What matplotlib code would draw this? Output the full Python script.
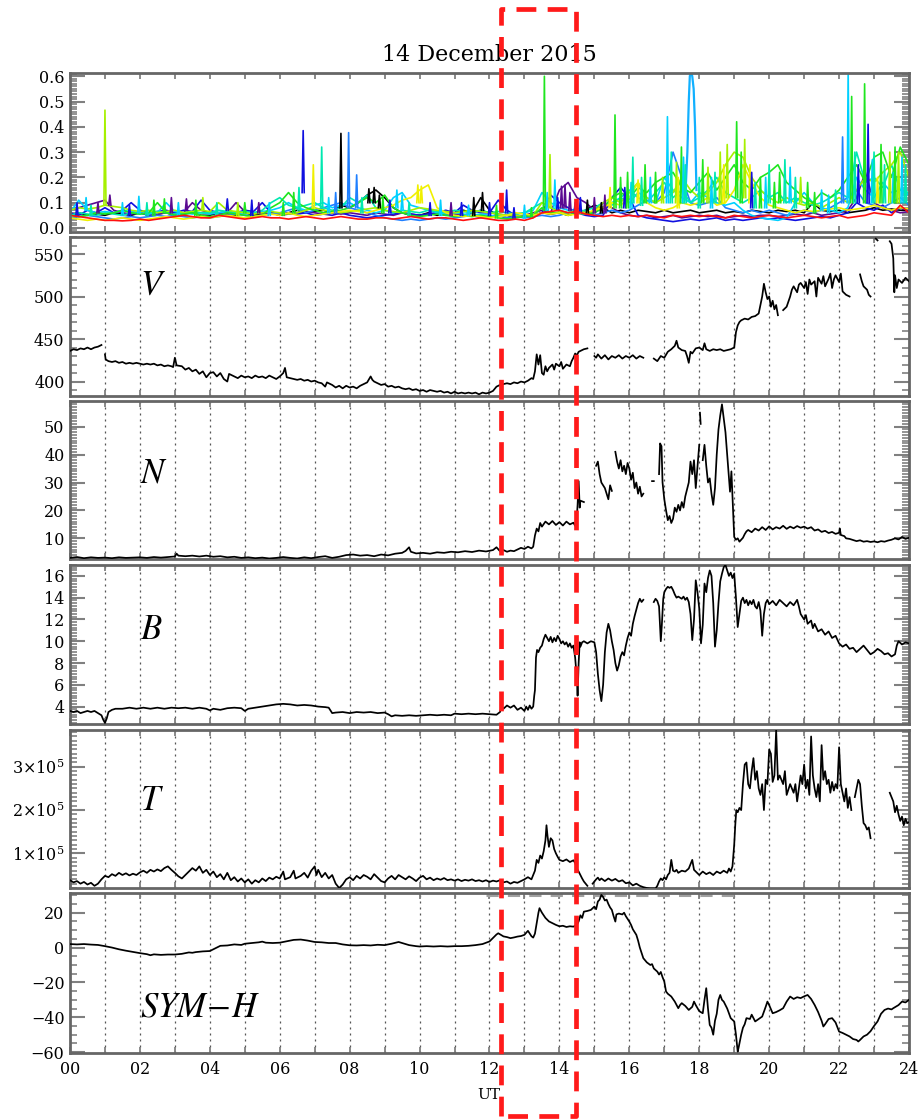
import numpy as np
import matplotlib
matplotlib.use("Agg")
import matplotlib.pyplot as plt
from matplotlib.lines import Line2D
from matplotlib.ticker import MultipleLocator, FixedLocator

plt.rcParams['font.family'] = ['DejaVu Serif']
plt.rcParams['mathtext.fontset'] = 'dejavuserif'
nan = np.nan

# ---------------- data ----------------
TITLE = "14 December 2015"
HOUR_LABELS = ["%02d" % h for h in range(0, 25, 2)]
RECT_T = [12.32, 14.47]          # highlighted interval (UT hours)

TOP_COLORS = ['#000000', '#5b0a91', '#1010e0', '#1e7fff', '#00d0ff',
              '#00e8b0', '#a6f000', '#1ee61e', '#f0f000', '#ff1010']
# series sampled every 0.25 h, 00-24 UT
top_black = [0.05,0.06,0.05,0.055, 0.05,0.06,0.055,0.05, 0.06,0.05,0.055,0.06, 0.05,0.055,0.06,0.05,
             0.05,0.06,0.055,0.05, 0.06,0.05,0.055,0.06, 0.05,0.06,0.07,0.06, 0.065,0.07,0.06,0.09,
             0.08,0.10,0.13,0.15, 0.12,0.08,0.06,0.05, 0.05,0.06,0.05,0.055, 0.06,0.07,0.06,0.12,
             0.07,0.05,0.04,0.05, 0.045,0.05,0.06,0.055, 0.06,0.05,0.06,0.07, 0.09,0.08,0.06,0.07,
             0.06,0.07,0.065,0.06, 0.07,0.06,0.065,0.07, 0.06,0.065,0.07,0.06, 0.065,0.06,0.07,0.065,
             0.06,0.07,0.065,0.07, 0.06,0.10,0.07,0.065, 0.07,0.06,0.065,0.07, 0.08,0.07,0.075,0.07,0.07]
top_indigo = [0.07,0.08,0.09,0.10, 0.11,0.07,0.06,0.055, 0.06,0.05,0.055,0.06, 0.055,0.06,0.10,0.07,
              0.06,0.055,0.06,0.10, 0.065,0.06,0.055,0.06, 0.05,0.055,0.06,0.065, 0.06,0.055,0.06,0.055,
              0.06,0.055,0.05,0.06, 0.055,0.05,0.06,0.055, 0.05,0.055,0.06,0.05, 0.055,0.05,0.06,0.07,
              0.06,0.055,0.05,0.045, 0.05,0.06,0.07,0.06, 0.15,0.18,0.12,0.10, 0.07,0.10,0.08,0.06,
              0.05,0.045,0.05,0.04, 0.045,0.05,0.04,0.045, 0.05,0.045,0.05,0.04, 0.045,0.05,0.045,0.05,
              0.05,0.045,0.05,0.055, 0.05,0.06,0.05,0.055, 0.06,0.07,0.12,0.22, 0.10,0.08,0.07,0.06,0.065]
top_blue = [0.06,0.05,0.07,0.06, 0.08,0.06,0.07,0.10, 0.07,0.06,0.065,0.07, 0.06,0.07,0.065,0.11,
            0.07,0.06,0.065,0.06, 0.07,0.065,0.10,0.06, 0.055,0.06,0.055,0.06, 0.05,0.055,0.05,0.06,
            0.05,0.045,0.04,0.045, 0.05,0.055,0.06,0.055, 0.05,0.055,0.06,0.07, 0.06,0.09,0.07,0.06,
            0.06,0.11,0.07,0.05, 0.045,0.05,0.06,0.13, 0.10,0.08,0.06,0.05, 0.045,0.05,0.12,0.16,
            0.12,0.05,0.04,0.035, 0.03,0.025,0.03,0.035, 0.03,0.035,0.04,0.03, 0.035,0.03,0.035,0.04,
            0.035,0.04,0.035,0.03, 0.035,0.04,0.045,0.04, 0.05,0.06,0.10,0.08, 0.07,0.09,0.06,0.08,0.07]
top_dodger = [0.04,0.045,0.05,0.045, 0.04,0.035,0.04,0.045, 0.04,0.045,0.05,0.045, 0.05,0.045,0.04,0.045,
              0.04,0.045,0.05,0.055, 0.05,0.045,0.05,0.055, 0.06,0.07,0.08,0.06, 0.07,0.08,0.09,0.10,
              0.08,0.07,0.06,0.05, 0.04,0.035,0.03,0.035, 0.03,0.035,0.04,0.035, 0.04,0.045,0.05,0.04,
              0.045,0.05,0.04,0.045, 0.04,0.045,0.05,0.045, 0.05,0.06,0.08,0.06, 0.05,0.06,0.07,0.06,
              0.07,0.09,0.11,0.10, 0.14,0.30,0.20,0.10, 0.09,0.10,0.12,0.08, 0.07,0.06,0.07,0.06,
              0.07,0.06,0.05,0.06, 0.07,0.06,0.07,0.08, 0.10,0.12,0.15,0.10, 0.09,0.08,0.10,0.12,0.09]
top_cyan = [0.06,0.11,0.07,0.06, 0.065,0.06,0.07,0.065, 0.06,0.055,0.06,0.10, 0.065,0.06,0.055,0.06,
            0.055,0.06,0.065,0.06, 0.055,0.06,0.065,0.07, 0.08,0.10,0.08,0.07, 0.09,0.10,0.08,0.09,
            0.10,0.08,0.07,0.06, 0.07,0.12,0.14,0.09, 0.08,0.07,0.06,0.055, 0.06,0.055,0.05,0.055,
            0.05,0.045,0.05,0.055, 0.06,0.07,0.14,0.10, 0.08,0.07,0.06,0.055, 0.06,0.08,0.10,0.12,
            0.10,0.14,0.12,0.10, 0.20,0.15,0.12,0.10, 0.14,0.12,0.10,0.09, 0.10,0.07,0.05,0.04,
            0.035,0.03,0.04,0.10, 0.14,0.10,0.08,0.07, 0.06,0.08,0.20,0.15, 0.12,0.18,0.14,0.15,0.13]
top_teal = [0.05,0.06,0.055,0.05, 0.06,0.055,0.05,0.06, 0.055,0.06,0.065,0.06, 0.055,0.06,0.065,0.06,
            0.06,0.07,0.065,0.06, 0.065,0.06,0.07,0.10, 0.12,0.09,0.08,0.09, 0.10,0.08,0.07,0.08,
            0.12,0.10,0.13,0.08, 0.07,0.06,0.07,0.065, 0.06,0.07,0.065,0.06, 0.07,0.065,0.06,0.07,
            0.06,0.065,0.06,0.055, 0.06,0.08,0.10,0.08, 0.07,0.06,0.065,0.07, 0.08,0.10,0.09,0.12,
            0.15,0.12,0.10,0.14, 0.18,0.12,0.15,0.10, 0.12,0.15,0.20,0.14, 0.12,0.10,0.12,0.15,
            0.12,0.14,0.10,0.12, 0.10,0.09,0.10,0.12, 0.14,0.12,0.30,0.18, 0.20,0.16,0.25,0.15,0.14]
top_ygreen = [0.07,0.08,0.075,0.08, 0.09,0.085,0.08,0.07, 0.065,0.07,0.06,0.065, 0.07,0.06,0.065,0.07,
              0.065,0.10,0.07,0.065, 0.06,0.055,0.06,0.065, 0.06,0.055,0.06,0.07, 0.08,0.07,0.065,0.06,
              0.065,0.07,0.075,0.08, 0.07,0.065,0.06,0.07, 0.08,0.075,0.07,0.065, 0.06,0.065,0.07,0.065,
              0.06,0.055,0.05,0.05, 0.045,0.05,0.10,0.08, 0.065,0.06,0.07,0.06, 0.065,0.10,0.12,0.10,
              0.14,0.18,0.12,0.10, 0.12,0.14,0.20,0.15, 0.12,0.14,0.18,0.25, 0.30,0.28,0.20,0.15,
              0.12,0.10,0.12,0.10, 0.09,0.10,0.08,0.10, 0.12,0.10,0.15,0.20, 0.18,0.22,0.25,0.30,0.20]
top_green = [0.05,0.045,0.05,0.06, 0.055,0.06,0.07,0.06, 0.055,0.06,0.10,0.06, 0.05,0.055,0.06,0.05,
             0.045,0.05,0.06,0.055, 0.05,0.045,0.05,0.08, 0.10,0.14,0.10,0.08, 0.07,0.06,0.065,0.07,
             0.08,0.10,0.12,0.10, 0.13,0.08,0.06,0.05, 0.045,0.05,0.055,0.05, 0.045,0.05,0.045,0.05,
             0.045,0.04,0.035,0.04, 0.045,0.05,0.08,0.06, 0.06,0.05,0.06,0.055, 0.06,0.08,0.12,0.14,
             0.12,0.16,0.14,0.18, 0.20,0.22,0.16,0.14, 0.18,0.22,0.15,0.20, 0.25,0.18,0.15,0.20,
             0.22,0.25,0.18,0.15, 0.12,0.10,0.14,0.12, 0.15,0.20,0.25,0.18, 0.28,0.30,0.20,0.32,0.25]
top_yellow = [0.04,0.035,0.03,0.035, 0.03,0.035,0.04,0.035, 0.03,0.035,0.04,0.045, 0.04,0.035,0.04,0.045,
              0.04,0.045,0.05,0.045, 0.04,0.045,0.05,0.055, 0.05,0.06,0.05,0.045, 0.05,0.055,0.06,0.065,
              0.07,0.065,0.06,0.07, 0.08,0.09,0.11,0.12, 0.15,0.17,0.08,0.06, 0.05,0.045,0.05,0.045,
              0.04,0.045,0.05,0.06, 0.055,0.05,0.06,0.055, 0.06,0.05,0.055,0.06, 0.07,0.08,0.10,0.09,
              0.12,0.18,0.10,0.08, 0.07,0.08,0.10,0.09, 0.10,0.12,0.09,0.10, 0.15,0.25,0.18,0.12,
              0.09,0.08,0.07,0.06, 0.07,0.065,0.07,0.075, 0.08,0.07,0.075,0.08, 0.09,0.08,0.07,0.08,0.075]
top_red = [0.05,0.045,0.04,0.035, 0.03,0.03,0.028,0.03, 0.035,0.03,0.035,0.04, 0.045,0.05,0.045,0.04,
           0.04,0.05,0.045,0.04, 0.035,0.04,0.045,0.04, 0.04,0.035,0.04,0.045, 0.04,0.035,0.04,0.045,
           0.04,0.035,0.035,0.04, 0.04,0.035,0.04,0.045, 0.04,0.035,0.04,0.04, 0.035,0.03,0.035,0.04,
           0.035,0.03,0.03,0.035, 0.03,0.04,0.06,0.065, 0.07,0.06,0.065,0.055, 0.05,0.045,0.05,0.045,
           0.05,0.045,0.05,0.045, 0.04,0.05,0.045,0.05, 0.045,0.05,0.045,0.04, 0.05,0.045,0.04,0.045,
           0.05,0.045,0.04,0.045, 0.05,0.045,0.04,0.045, 0.05,0.04,0.045,0.05, 0.06,0.055,0.05,0.09,0.06]
# draw order and colour index of each series
TOP_SERIES = [(top_black, 0), (top_indigo, 1), (top_blue, 2), (top_dodger, 3), (top_cyan, 4),
              (top_teal, 5), (top_ygreen, 6), (top_green, 7), (top_yellow, 8)]
# narrow spikes: (UT, peak, foot, colour index)
TOP_SPIKES = [(0.2, 0.10, 0.05, 2), (0.46, 0.12, 0.07, 4), (0.6, 0.09, 0.05, 5), (0.8, 0.10, 0.06, 1),
              (1.0, 0.466, 0.09, 6), (1.14, 0.13, 0.09, 1), (1.5, 0.10, 0.05, 4), (1.7, 0.09, 0.05, 2),
              (1.97, 0.125, 0.06, 4), (2.2, 0.10, 0.05, 5), (2.4, 0.11, 0.05, 7), (2.7, 0.115, 0.06, 7),
              (2.9, 0.12, 0.06, 1), (3.1, 0.10, 0.05, 4), (3.33, 0.115, 0.07, 1), (3.6, 0.11, 0.05, 7),
              (3.8, 0.12, 0.07, 6), (4.2, 0.10, 0.05, 5), (4.5, 0.115, 0.07, 2), (4.8, 0.10, 0.05, 6),
              (5.0, 0.10, 0.06, 7), (5.2, 0.11, 0.05, 2), (5.4, 0.10, 0.06, 1), (5.7, 0.10, 0.05, 4),
              (6.1, 0.10, 0.05, 7), (6.4, 0.14, 0.06, 7), (6.55, 0.16, 0.07, 5), (6.67, 0.385, 0.14, 2),
              (6.96, 0.25, 0.08, 8), (7.2, 0.32, 0.08, 5), (7.4, 0.12, 0.06, 4), (7.6, 0.14, 0.06, 3),
              (7.75, 0.374, 0.08, 0), (7.97, 0.377, 0.08, 3), (8.2, 0.21, 0.08, 3), (8.35, 0.12, 0.06, 5),
              (8.55, 0.155, 0.10, 0), (8.7, 0.16, 0.10, 0), (8.85, 0.13, 0.08, 0), (8.95, 0.12, 0.06, 7),
              (9.15, 0.11, 0.06, 2), (9.35, 0.15, 0.08, 4), (9.5, 0.13, 0.07, 4), (9.7, 0.10, 0.05, 5),
              (9.95, 0.17, 0.10, 8), (10.05, 0.165, 0.10, 8), (10.3, 0.10, 0.05, 2), (10.6, 0.11, 0.05, 4),
              (10.9, 0.10, 0.05, 1), (11.2, 0.10, 0.05, 2), (11.4, 0.09, 0.05, 4), (11.55, 0.12, 0.05, 0),
              (11.8, 0.14, 0.07, 0), (12.0, 0.10, 0.05, 2), (12.2, 0.09, 0.04, 7), (12.49, 0.15, 0.06, 2),
              (12.7, 0.08, 0.04, 2), (13.0, 0.09, 0.04, 4), (13.2, 0.08, 0.04, 7), (13.57, 0.60, 0.07, 7),
              (13.65, 0.14, 0.07, 4), (13.73, 0.29, 0.08, 6), (13.87, 0.19, 0.08, 4), (13.95, 0.12, 0.07, 2),
              (14.06, 0.165, 0.08, 1), (14.16, 0.17, 0.08, 1), (14.3, 0.14, 0.07, 1), (14.45, 0.10, 0.06, 2),
              (14.6, 0.12, 0.06, 2), (14.8, 0.11, 0.06, 0), (15.0, 0.12, 0.06, 1), (15.2, 0.10, 0.06, 0),
              (15.3, 0.13, 0.06, 1), (15.45, 0.16, 0.08, 8), (15.59, 0.447, 0.08, 7), (15.75, 0.20, 0.08, 7),
              (15.87, 0.16, 0.08, 2), (15.95, 0.22, 0.08, 7), (16.05, 0.18, 0.08, 4), (16.1, 0.28, 0.10, 5),
              (16.25, 0.19, 0.10, 8), (16.35, 0.20, 0.09, 5), (16.45, 0.25, 0.10, 7), (16.6, 0.20, 0.10, 4),
              (16.75, 0.22, 0.10, 7), (16.95, 0.20, 0.10, 6), (17.09, 0.44, 0.10, 4), (17.2, 0.30, 0.10, 5),
              (17.35, 0.26, 0.10, 6), (17.4, 0.20, 0.08, 8), (17.49, 0.32, 0.10, 7), (17.55, 0.28, 0.10, 4),
              (17.6, 0.25, 0.10, 5), (18.0, 0.20, 0.08, 5), (18.1, 0.27, 0.10, 7), (18.25, 0.24, 0.10, 6),
              (18.35, 0.20, 0.08, 4), (18.45, 0.22, 0.10, 5), (18.6, 0.30, 0.10, 6), (18.7, 0.25, 0.10, 8),
              (18.8, 0.33, 0.12, 6), (19.07, 0.42, 0.12, 7), (19.2, 0.30, 0.10, 7), (19.3, 0.35, 0.12, 6),
              (19.45, 0.25, 0.10, 8), (19.5, 0.22, 0.08, 2), (19.6, 0.18, 0.08, 5), (19.75, 0.20, 0.08, 7),
              (19.9, 0.20, 0.08, 4), (20.0, 0.25, 0.10, 5), (20.15, 0.18, 0.08, 7), (20.3, 0.22, 0.10, 7),
              (20.45, 0.27, 0.10, 5), (20.6, 0.24, 0.10, 4), (20.75, 0.20, 0.08, 5), (20.9, 0.20, 0.10, 6),
              (21.1, 0.18, 0.08, 7), (21.3, 0.14, 0.06, 7), (21.5, 0.15, 0.07, 4), (21.7, 0.13, 0.06, 4),
              (21.9, 0.15, 0.07, 5), (22.1, 0.36, 0.10, 3), (22.26, 0.62, 0.10, 4), (22.36, 0.52, 0.10, 7),
              (22.45, 0.30, 0.10, 5), (22.55, 0.25, 0.10, 2), (22.73, 0.57, 0.10, 7), (22.83, 0.41, 0.10, 2),
              (22.95, 0.27, 0.10, 4), (23.0, 0.30, 0.10, 5), (23.1, 0.20, 0.10, 8), (23.2, 0.33, 0.10, 7),
              (23.3, 0.25, 0.10, 5), (23.45, 0.30, 0.10, 6), (23.55, 0.22, 0.10, 4), (23.6, 0.32, 0.10, 7),
              (23.7, 0.30, 0.10, 6), (23.8, 0.28, 0.10, 4), (23.9, 0.25, 0.10, 5)]
burst_t = [17.6, 17.66, 17.7, 17.73, 17.76, 17.8, 17.84, 17.88, 17.92]
burst_v = [0.12, 0.30, 0.50, 0.60, 0.62, 0.60, 0.55, 0.40, 0.15]

V_data = [(0.0,436),(0.1,438),(0.2,437),(0.3,439),(0.4,438),(0.5,440),(0.6,438),(0.7,440),(0.8,441),(0.9,443),
 (0.95,nan),(1.0,432),(1.02,426),(1.1,424),(1.2,423),(1.3,424),(1.4,422),(1.5,423),(1.6,421),(1.7,422),(1.8,421),
 (1.9,422),(2.0,421),(2.1,420),(2.2,421),(2.3,420),(2.4,421),(2.5,419),(2.6,420),(2.7,418),(2.8,419),(2.9,418),
 (2.95,417),(3.0,428),(3.05,419),(3.2,418),(3.3,414),(3.4,416),(3.5,412),(3.6,414),(3.7,409),(3.8,412),(3.9,405),
 (4.0,410),(4.1,411),(4.2,406),(4.3,410),(4.4,403),(4.5,400),(4.55,409),(4.7,406),(4.8,404),(4.9,407),(5.0,405),
 (5.1,406),(5.2,404),(5.3,407),(5.4,405),(5.5,406),(5.6,404),(5.7,407),(5.8,405),(5.9,403),(6.0,406),(6.1,410),
 (6.15,416),(6.2,405),(6.3,404),(6.4,403),(6.5,402),(6.6,403),(6.7,401),(6.8,402),(6.9,400),(7.0,401),(7.1,399),
 (7.2,398),(7.3,394),(7.35,399),(7.5,396),(7.6,393),(7.7,395),(7.8,392),(7.9,395),(8.0,393),(8.1,394),(8.2,392),
 (8.3,395),(8.4,397),(8.5,399),(8.6,406),(8.65,402),(8.7,400),(8.8,398),(8.9,396),(9.0,397),(9.1,394),(9.2,395),
 (9.3,393),(9.4,394),(9.5,392),(9.6,391),(9.7,392),(9.8,390),(9.9,391),(10.0,389),(10.1,390),(10.2,388),(10.3,390),
 (10.4,389),(10.5,388),(10.6,389),(10.7,387),(10.8,388),(10.9,386),(11.0,388),(11.1,386),(11.2,387),(11.3,386),
 (11.4,387),(11.5,386),(11.6,387),(11.7,385),(11.8,387),(11.9,386),(12.0,387),(12.1,389),(12.2,394),(12.3,396),
 (12.4,397),(12.5,398),(12.6,397),(12.7,399),(12.8,398),(12.9,400),(13.0,399),(13.1,401),(13.2,404),(13.25,403),
 (13.3,412),(13.35,432),(13.4,420),(13.45,431),(13.5,410),(13.55,408),(13.6,418),(13.65,412),(13.7,416),(13.8,420),
 (13.85,414),(13.9,421),(14.0,418),(14.05,423),(14.1,415),(14.2,420),(14.3,418),(14.35,424),(14.4,428),(14.45,433),
 (14.5,431),(14.55,435),(14.6,436),(14.7,438),(14.8,439),(14.9,nan),(15.0,430),(15.05,428),(15.1,432),(15.2,427),
 (15.3,431),(15.4,426),(15.5,430),(15.6,428),(15.7,431),(15.8,427),(15.9,430),(16.0,428),(16.1,431),(16.2,427),
 (16.3,430),(16.4,428),(16.45,nan),(16.7,427),(16.8,424),(16.9,430),(17.0,428),(17.1,435),(17.2,438),(17.3,442),
 (17.35,448),(17.4,440),(17.5,437),(17.6,436),(17.65,430),(17.7,422),(17.75,435),(17.8,433),(17.9,439),(18.0,440),
 (18.1,437),(18.15,445),(18.2,438),(18.3,436),(18.4,438),(18.5,437),(18.6,438),(18.7,436),(18.8,437),(18.9,438),
 (19.0,440),(19.05,458),(19.1,466),(19.15,470),(19.2,472),(19.3,474),(19.4,473),(19.5,476),(19.6,477),(19.7,480),
 (19.75,490),(19.8,500),(19.85,515),(19.9,505),(19.95,497),(20.0,500),(20.05,488),(20.1,495),(20.15,485),(20.2,490),
 (20.25,478),(20.3,nan),(20.4,484),(20.5,488),(20.6,500),(20.65,508),(20.7,512),(20.8,505),(20.85,514),(20.9,516),
 (21.0,510),(21.05,517),(21.1,503),(21.15,520),(21.2,514),(21.3,518),(21.35,500),(21.4,522),(21.5,515),(21.55,524),
 (21.6,512),(21.7,521),(21.75,527),(21.8,510),(21.85,520),(21.9,525),(22.0,517),(22.05,527),(22.1,506),(22.2,502),
 (22.3,500),(22.35,nan),(22.6,526),(22.65,518),(22.7,512),(22.8,508),(22.85,502),(22.9,500),(22.95,nan),(23.05,568),
 (23.1,566),(23.15,nan),(23.3,565),(23.35,nan),(23.45,565),(23.5,562),(23.55,545),(23.58,505),(23.6,525),(23.65,510),
 (23.7,520),(23.8,516),(23.9,522),(24.0,518)]

N_data = [(0.0,3.0),(0.2,3.3),(0.4,2.9),(0.6,3.2),(0.8,3.0),(1.0,3.1),(1.2,2.9),(1.4,3.2),(1.6,3.0),(1.8,3.1),
 (2.0,3.2),(2.2,3.0),(2.4,3.3),(2.6,3.1),(2.8,3.3),(3.0,3.5),(3.05,4.5),(3.1,3.8),(3.3,3.6),(3.5,3.8),(3.7,3.5),
 (3.9,3.8),(4.1,3.4),(4.3,3.6),(4.5,3.2),(4.7,3.4),(4.9,3.0),(5.1,3.2),(5.3,2.9),(5.5,3.1),(5.7,2.8),(5.9,3.0),
 (6.1,3.3),(6.3,3.0),(6.5,2.8),(6.7,3.2),(6.9,2.9),(7.1,3.3),(7.3,3.6),(7.5,3.0),(7.7,3.4),(7.9,4.0),(8.1,4.2),
 (8.3,3.8),(8.5,4.0),(8.7,3.6),(8.9,4.2),(9.1,3.9),(9.3,4.5),(9.5,4.8),(9.6,5.5),(9.7,6.8),(9.75,5.2),(9.9,4.6),
 (10.1,4.8),(10.3,4.5),(10.5,5.0),(10.7,4.8),(10.9,5.2),(11.1,5.0),(11.3,5.4),(11.5,5.1),(11.7,5.6),(11.9,5.3),
 (12.1,5.8),(12.2,6.8),(12.3,5.4),(12.4,5.8),(12.5,5.2),(12.6,5.6),(12.7,5.4),(12.8,6.0),(12.9,6.6),(13.0,6.2),
 (13.1,7.0),(13.2,6.4),(13.25,7.0),(13.3,11.0),(13.35,13.5),(13.4,12.5),(13.45,15.5),(13.5,14.2),(13.6,16.0),
 (13.7,15.0),(13.8,16.2),(13.9,14.8),(14.0,15.8),(14.1,14.6),(14.2,16.0),(14.3,15.0),(14.4,15.6),(14.45,14.5),
 (14.5,18.0),(14.52,22.0),(14.55,30.5),(14.58,21.0),(14.6,23.5),(14.7,23.0),(14.75,nan),(14.85,24.5),(14.9,nan),
 (15.05,36.0),(15.1,37.5),(15.15,33.0),(15.2,30.0),(15.3,28.0),(15.35,26.0),(15.4,24.0),(15.45,29.0),(15.5,27.0),
 (15.55,nan),(15.6,41.0),(15.65,37.5),(15.7,35.0),(15.75,38.0),(15.8,34.0),(15.85,36.0),(15.9,33.0),(15.95,37.0),
 (16.0,35.0),(16.05,31.0),(16.1,33.5),(16.15,28.0),(16.2,30.0),(16.25,26.0),(16.3,28.5),(16.35,25.0),(16.4,26.0),
 (16.45,nan),(16.65,30.5),(16.7,30.5),(16.75,nan),(16.85,33.0),(16.88,44.0),(16.92,43.0),(16.95,30.0),(17.0,24.0),
 (17.05,20.0),(17.1,16.5),(17.15,18.0),(17.2,15.5),(17.25,17.0),(17.3,21.0),(17.35,19.5),(17.4,22.0),(17.45,20.0),
 (17.5,23.0),(17.55,21.0),(17.6,25.0),(17.7,30.0),(17.75,37.5),(17.8,33.0),(17.85,38.0),(17.9,28.0),(17.95,36.0),
 (18.0,43.5),(18.01,nan),(18.02,55.0),(18.04,51.0),(18.05,nan),(18.1,38.0),(18.15,43.5),(18.2,36.0),(18.25,30.0),
 (18.3,31.5),(18.35,26.0),(18.4,22.0),(18.45,28.0),(18.5,40.0),(18.55,49.0),(18.6,54.0),(18.65,58.0),(18.7,53.0),
 (18.75,48.0),(18.8,40.0),(18.85,32.0),(18.88,26.7),(18.92,34.0),(18.96,22.0),(19.0,10.5),(19.05,9.5),(19.1,10.0),
 (19.15,8.8),(19.2,9.5),(19.25,10.2),(19.3,11.5),(19.35,12.5),(19.4,13.0),(19.5,12.2),(19.6,13.5),(19.7,12.8),
 (19.8,14.0),(19.9,13.0),(20.0,14.3),(20.1,13.2),(20.2,14.0),(20.3,13.5),(20.4,14.5),(20.5,13.4),(20.6,14.2),
 (20.7,13.6),(20.8,14.4),(20.9,13.8),(21.0,14.2),(21.1,13.5),(21.2,14.0),(21.3,12.8),(21.4,13.2),(21.5,12.3),
 (21.6,12.7),(21.7,11.9),(21.8,12.3),(21.9,11.6),(22.0,12.0),(22.02,13.5),(22.05,11.2),(22.15,10.8),(22.2,10.0),
 (22.3,9.8),(22.4,9.4),(22.5,9.0),(22.6,9.3),(22.7,8.8),(22.8,9.0),(22.9,8.7),(23.0,8.9),(23.1,8.6),(23.2,9.0),
 (23.3,8.8),(23.4,9.2),(23.5,9.5),(23.6,10.0),(23.7,9.6),(23.8,10.5),(23.9,9.8),(24.0,10.2)]

B_data = [(0.0,3.6),(0.1,3.5),(0.2,3.6),(0.3,3.4),(0.4,3.5),(0.5,3.6),(0.6,3.5),(0.7,3.6),(0.8,3.4),(0.9,3.2),
 (0.95,2.8),(1.0,2.5),(1.05,2.9),(1.1,3.5),(1.2,3.7),(1.3,3.8),(1.5,3.8),(1.7,3.9),(1.9,3.8),(2.1,3.9),(2.3,3.8),
 (2.5,3.9),(2.7,3.8),(2.9,3.9),(3.1,3.85),(3.3,3.9),(3.5,3.8),(3.7,3.9),(3.9,3.8),(4.0,3.65),(4.1,3.8),(4.3,3.7),
 (4.5,3.85),(4.7,3.9),(4.9,3.85),(5.0,3.6),(5.1,3.8),(5.3,3.9),(5.5,4.0),(5.7,4.1),(5.9,4.2),(6.1,4.25),(6.3,4.2),
 (6.5,4.1),(6.7,4.15),(6.9,4.1),(7.1,4.0),(7.3,3.95),(7.4,3.9),(7.5,3.4),(7.6,3.45),(7.8,3.5),(8.0,3.4),(8.2,3.5),
 (8.4,3.45),(8.6,3.5),(8.8,3.4),(9.0,3.45),(9.1,3.3),(9.2,3.1),(9.3,3.2),(9.5,3.15),(9.7,3.2),(9.9,3.15),(10.1,3.2),
 (10.3,3.25),(10.5,3.2),(10.7,3.25),(10.9,3.2),(11.0,3.35),(11.2,3.3),(11.4,3.35),(11.6,3.3),(11.8,3.35),(12.0,3.3),
 (12.2,3.25),(12.3,3.5),(12.35,4.0),(12.4,3.8),(12.5,4.1),(12.6,3.9),(12.7,4.1),(12.8,3.7),(12.9,3.9),(13.0,3.6),
 (13.05,4.0),(13.1,3.7),(13.15,4.1),(13.2,3.8),(13.25,4.0),(13.28,5.0),(13.3,5.5),(13.33,8.5),(13.36,9.2),(13.4,9.0),
 (13.45,9.4),(13.5,9.6),(13.55,10.2),(13.6,10.6),(13.65,10.3),(13.7,10.0),(13.75,10.4),(13.8,9.9),(13.85,10.3),
 (13.9,10.0),(13.95,10.5),(14.0,10.2),(14.05,9.8),(14.1,10.0),(14.15,9.7),(14.2,9.9),(14.25,9.5),(14.3,9.8),
 (14.35,9.4),(14.4,9.6),(14.45,8.5),(14.5,6.5),(14.52,5.0),(14.55,8.0),(14.58,9.9),(14.6,9.5),(14.65,9.9),
 (14.7,10.0),(14.8,9.8),(14.9,10.0),(15.0,9.9),(15.05,9.0),(15.1,7.0),(15.15,5.5),(15.2,4.5),(15.25,6.0),(15.3,9.0),
 (15.35,10.8),(15.4,11.6),(15.45,11.0),(15.5,10.0),(15.55,9.2),(15.6,8.0),(15.65,7.3),(15.7,7.8),(15.75,8.6),
 (15.8,9.0),(15.85,8.7),(15.9,9.6),(15.95,10.3),(16.0,10.8),(16.05,10.5),(16.1,11.6),(16.15,12.3),(16.2,12.9),
 (16.25,13.5),(16.3,13.9),(16.35,13.6),(16.4,13.8),(16.45,nan),(16.7,13.6),(16.75,13.9),(16.8,13.7),(16.85,13.2),
 (16.9,10.0),(16.93,11.5),(16.97,13.9),(17.0,14.5),(17.05,14.8),(17.1,15.0),(17.15,14.9),(17.2,15.0),(17.25,14.7),
 (17.3,14.3),(17.35,14.0),(17.4,14.1),(17.5,13.9),(17.55,14.1),(17.6,13.8),(17.65,14.0),(17.7,13.6),(17.75,12.5),
 (17.8,10.1),(17.85,12.0),(17.9,15.6),(17.95,14.5),(18.0,13.0),(18.05,9.8),(18.1,11.5),(18.15,15.3),(18.2,14.5),
 (18.25,15.8),(18.3,16.5),(18.35,16.0),(18.4,13.5),(18.45,9.5),(18.5,11.0),(18.55,13.5),(18.6,15.5),(18.65,16.2),
 (18.7,16.8),(18.75,17.0),(18.8,16.5),(18.85,16.0),(18.9,16.3),(18.95,15.8),(19.0,16.2),(19.05,14.0),(19.1,11.3),
 (19.15,12.5),(19.2,13.7),(19.25,14.0),(19.3,13.5),(19.35,13.8),(19.4,13.3),(19.45,13.7),(19.5,13.4),(19.55,13.8),
 (19.6,13.2),(19.65,13.0),(19.7,13.6),(19.75,12.8),(19.8,10.5),(19.85,12.5),(19.9,13.5),(19.95,13.8),(20.0,13.4),
 (20.1,13.7),(20.2,13.3),(20.3,13.8),(20.4,13.5),(20.5,13.2),(20.6,13.6),(20.7,13.3),(20.8,13.8),(20.85,13.2),
 (20.9,12.5),(21.0,12.0),(21.05,12.4),(21.1,11.6),(21.2,11.9),(21.25,11.2),(21.3,11.6),(21.4,10.9),(21.5,11.1),
 (21.6,10.6),(21.7,10.9),(21.8,10.3),(21.9,10.5),(22.0,9.8),(22.1,9.5),(22.2,9.7),(22.3,9.3),(22.4,9.4),(22.5,9.0),
 (22.6,9.3),(22.7,9.6),(22.8,9.2),(22.9,8.8),(23.0,9.0),(23.1,9.3),(23.2,9.1),(23.3,8.8),(23.4,8.9),(23.5,8.6),
 (23.6,8.8),(23.65,9.6),(23.7,10.0),(23.8,9.7),(23.9,9.9),(24.0,9.8)]

# temperature in units of 1e5 K
T_data = [(0.0,0.38),(0.1,0.33),(0.2,0.36),(0.3,0.30),(0.4,0.34),(0.5,0.28),(0.6,0.32),(0.7,0.25),(0.8,0.30),
 (0.9,0.40),(1.0,0.48),(1.1,0.45),(1.2,0.52),(1.3,0.48),(1.4,0.55),(1.5,0.50),(1.6,0.54),(1.7,0.49),(1.8,0.53),
 (1.9,0.50),(2.0,0.56),(2.1,0.60),(2.2,0.55),(2.3,0.62),(2.4,0.58),(2.5,0.63),(2.6,0.59),(2.7,0.66),(2.8,0.70),
 (2.9,0.62),(3.0,0.55),(3.1,0.47),(3.2,0.42),(3.3,0.50),(3.4,0.58),(3.5,0.66),(3.6,0.60),(3.7,0.70),(3.8,0.55),
 (3.9,0.62),(4.0,0.50),(4.1,0.58),(4.2,0.45),(4.3,0.52),(4.4,0.40),(4.5,0.55),(4.6,0.38),(4.7,0.45),(4.8,0.35),
 (4.9,0.42),(5.0,0.33),(5.1,0.40),(5.2,0.30),(5.3,0.38),(5.4,0.33),(5.5,0.42),(5.6,0.36),(5.7,0.44),(5.8,0.40),
 (5.9,0.46),(6.0,0.42),(6.1,0.58),(6.15,0.40),(6.3,0.45),(6.4,0.60),(6.45,0.42),(6.6,0.48),(6.7,0.55),(6.8,0.44),
 (6.9,0.60),(7.0,0.70),(7.05,0.50),(7.1,0.62),(7.2,0.45),(7.3,0.55),(7.4,0.42),(7.5,0.50),(7.6,0.30),(7.7,0.20),
 (7.8,0.28),(7.9,0.40),(8.0,0.45),(8.1,0.38),(8.2,0.48),(8.3,0.42),(8.4,0.50),(8.5,0.46),(8.6,0.40),(8.7,0.52),
 (8.8,0.44),(8.9,0.36),(9.0,0.33),(9.1,0.42),(9.2,0.48),(9.3,0.40),(9.4,0.50),(9.5,0.45),(9.6,0.40),(9.7,0.47),
 (9.8,0.42),(9.9,0.36),(10.0,0.44),(10.1,0.48),(10.2,0.40),(10.3,0.44),(10.4,0.38),(10.5,0.42),(10.6,0.39),
 (10.7,0.43),(10.8,0.38),(10.9,0.40),(11.0,0.37),(11.1,0.40),(11.2,0.36),(11.3,0.39),(11.4,0.37),(11.5,0.40),
 (11.6,0.36),(11.7,0.38),(11.8,0.35),(11.9,0.38),(12.0,0.34),(12.1,0.37),(12.2,0.35),(12.3,0.38),(12.4,0.33),
 (12.5,0.35),(12.6,0.30),(12.7,0.34),(12.8,0.32),(12.9,0.36),(13.0,0.40),(13.1,0.45),(13.2,0.40),(13.25,0.50),
 (13.3,0.60),(13.35,0.85),(13.4,0.78),(13.45,0.95),(13.5,0.88),(13.55,1.05),(13.6,1.30),(13.63,1.65),(13.66,1.40),
 (13.7,1.15),(13.75,1.35),(13.8,1.30),(13.85,1.10),(13.9,1.00),(13.95,0.92),(14.0,0.85),(14.1,0.82),(14.2,0.86),
 (14.3,0.80),(14.4,0.84),(14.45,0.78),(14.5,0.65),(14.55,0.58),(14.6,0.50),(14.65,0.42),(14.7,0.35),(14.75,0.30),
 (14.8,0.25),(14.85,nan),(14.95,0.30),(15.0,0.35),(15.05,0.40),(15.1,0.44),(15.15,0.38),(15.2,0.42),(15.3,0.36),
 (15.4,0.42),(15.5,0.37),(15.6,0.41),(15.7,0.35),(15.8,0.38),(15.9,0.31),(16.0,0.33),(16.1,0.26),(16.2,0.30),
 (16.3,0.25),(16.4,0.22),(16.5,0.20),(16.6,0.19),(16.7,0.19),(16.75,0.19),(16.8,0.25),(16.85,0.35),(16.9,0.42),
 (16.95,0.38),(17.0,0.45),(17.05,0.40),(17.1,0.50),(17.15,0.55),(17.2,0.85),(17.25,0.60),(17.3,0.58),(17.35,0.62),
 (17.4,0.55),(17.5,0.60),(17.6,0.58),(17.7,0.65),(17.8,0.85),(17.85,0.62),(17.9,0.58),(18.0,0.50),(18.1,0.58),
 (18.2,0.52),(18.3,0.56),(18.4,0.50),(18.5,0.58),(18.6,0.54),(18.7,0.60),(18.8,0.55),(18.85,0.65),(18.9,0.58),
 (18.95,0.70),(19.0,1.20),(19.03,1.65),(19.06,2.00),(19.1,1.95),(19.15,2.05),(19.2,2.00),(19.25,2.60),(19.3,3.05),
 (19.35,3.10),(19.4,2.60),(19.45,2.50),(19.5,2.90),(19.55,3.20),(19.6,2.70),(19.65,2.90),(19.7,2.50),(19.75,2.35),
 (19.8,2.60),(19.85,2.00),(19.9,2.70),(19.95,2.60),(20.0,3.40),(20.05,3.30),(20.1,2.65),(20.15,2.80),(20.2,3.85),
 (20.25,2.70),(20.3,2.80),(20.4,2.60),(20.45,2.90),(20.5,2.35),(20.6,2.60),(20.7,2.40),(20.75,2.60),(20.8,2.20),
 (20.85,2.50),(20.9,2.80),(20.95,2.60),(21.0,3.05),(21.05,2.50),(21.1,2.70),(21.15,2.35),(21.2,3.70),(21.25,2.80),
 (21.3,2.50),(21.35,2.30),(21.4,2.60),(21.45,2.20),(21.5,3.50),(21.55,2.70),(21.6,2.90),(21.65,2.60),(21.7,2.70),
 (21.75,2.40),(21.8,2.65),(21.85,2.45),(21.9,2.60),(21.95,2.50),(22.0,3.45),(22.05,2.60),(22.1,2.40),(22.15,2.20),
 (22.2,2.50),(22.25,2.05),(22.3,2.30),(22.35,2.00),(22.4,nan),(22.45,2.30),(22.5,2.50),(22.55,2.70),(22.6,2.60),
 (22.65,2.10),(22.7,1.70),(22.75,1.65),(22.8,1.55),(22.85,1.60),(22.9,1.35),(22.95,nan),(23.05,2.20),(23.1,nan),
 (23.25,1.75),(23.3,nan),(23.45,2.40),(23.5,2.30),(23.55,2.20),(23.6,1.95),(23.65,2.10),(23.7,1.90),(23.75,1.75),
 (23.8,1.85),(23.85,1.65),(23.9,1.80),(23.95,1.70),(24.0,1.72)]

SYM_data = [(0.0,2.0),(0.2,1.8),(0.4,2.0),(0.6,1.7),(0.8,1.5),(1.0,0.8),(1.2,0.0),(1.4,-1.0),(1.6,-1.8),(1.8,-2.5),
 (2.0,-3.2),(2.2,-3.8),(2.3,-4.4),(2.4,-3.9),(2.6,-4.2),(2.8,-4.0),(3.0,-4.0),(3.2,-3.6),(3.4,-2.8),(3.5,-3.0),
 (3.6,-2.6),(3.8,-2.2),(4.0,-2.0),(4.1,-1.0),(4.2,0.0),(4.3,1.0),(4.5,1.2),(4.7,1.8),(4.9,1.5),(5.0,2.2),(5.2,2.6),
 (5.4,3.0),(5.5,3.4),(5.6,2.8),(5.8,2.6),(6.0,2.8),(6.2,3.6),(6.4,4.4),(6.6,4.6),(6.8,4.0),(7.0,3.2),(7.2,3.0),
 (7.4,2.6),(7.6,2.6),(7.8,1.8),(8.0,1.3),(8.2,1.2),(8.4,1.4),(8.6,1.2),(8.8,1.6),(9.0,1.4),(9.2,2.2),(9.4,3.2),
 (9.5,2.6),(9.7,1.4),(9.9,0.8),(10.0,0.6),(10.2,0.8),(10.4,0.6),(10.6,0.8),(10.8,0.6),(11.0,0.8),(11.2,0.8),
 (11.4,1.0),(11.6,1.4),(11.8,2.0),(12.0,3.5),(12.1,5.5),(12.2,7.5),(12.25,8.2),(12.3,7.6),(12.4,6.4),(12.5,6.0),
 (12.6,5.4),(12.7,5.8),(12.8,6.3),(12.9,6.6),(13.0,7.3),(13.05,8.5),(13.1,9.6),(13.15,8.0),(13.2,6.5),(13.25,5.7),
 (13.3,8.0),(13.35,14.0),(13.4,20.0),(13.43,22.6),(13.5,20.0),(13.55,18.5),(13.6,17.0),(13.7,15.0),(13.8,14.0),
 (13.9,13.0),(14.0,12.2),(14.1,12.5),(14.2,11.8),(14.3,12.2),(14.4,12.0),(14.5,13.0),(14.55,15.0),(14.6,18.5),
 (14.65,17.0),(14.7,20.6),(14.8,21.0),(14.9,21.6),(15.0,23.5),(15.05,22.0),(15.1,26.4),(15.15,27.5),(15.2,30.2),
 (15.25,29.0),(15.3,27.0),(15.35,27.5),(15.4,25.0),(15.45,23.0),(15.5,21.6),(15.55,18.0),(15.6,14.9),(15.63,19.0),
 (15.7,19.5),(15.8,19.0),(15.85,20.0),(15.9,18.0),(16.0,14.9),(16.05,13.0),(16.1,10.5),(16.2,7.3),(16.25,4.0),
 (16.3,0.0),(16.35,-3.0),(16.4,-6.1),(16.5,-8.5),(16.6,-10.0),(16.65,-9.5),(16.7,-12.0),(16.8,-13.8),(16.85,-15.5),
 (16.9,-14.0),(16.95,-17.0),(17.0,-19.5),(17.05,-25.2),(17.1,-26.5),(17.2,-28.1),(17.3,-31.0),(17.4,-34.8),
 (17.45,-33.0),(17.5,-31.9),(17.6,-33.5),(17.7,-35.8),(17.8,-34.0),(17.85,-31.0),(17.9,-33.0),(18.0,-36.5),
 (18.1,-37.7),(18.15,-30.0),(18.2,-23.3),(18.25,-35.0),(18.3,-44.4),(18.35,-46.0),(18.4,-50.0),(18.45,-42.0),
 (18.5,-38.0),(18.55,-30.0),(18.6,-27.2),(18.65,-30.0),(18.7,-31.0),(18.8,-35.0),(18.9,-40.5),(19.0,-42.4),
 (19.05,-50.0),(19.1,-59.7),(19.13,-57.0),(19.2,-50.0),(19.25,-46.0),(19.3,-44.0),(19.35,-40.5),(19.45,-41.0),
 (19.5,-38.5),(19.6,-42.4),(19.7,-41.0),(19.8,-39.6),(19.9,-34.0),(19.95,-31.0),(20.0,-33.0),(20.1,-37.7),
 (20.2,-37.0),(20.3,-36.0),(20.4,-34.8),(20.5,-31.0),(20.6,-28.1),(20.7,-29.5),(20.8,-28.5),(20.9,-29.0),
 (21.0,-28.0),(21.1,-27.2),(21.2,-29.5),(21.3,-32.9),(21.4,-37.0),(21.5,-42.0),(21.55,-45.3),(21.6,-44.0),
 (21.7,-41.0),(21.8,-40.5),(21.9,-43.0),(22.0,-48.2),(22.1,-49.0),(22.2,-50.0),(22.3,-51.0),(22.4,-52.5),
 (22.5,-53.0),(22.55,-53.9),(22.6,-53.0),(22.7,-51.0),(22.8,-50.0),(22.9,-48.0),(23.0,-45.0),(23.1,-42.4),
 (23.2,-38.0),(23.3,-35.8),(23.4,-35.0),(23.5,-35.5),(23.55,-34.8),(23.7,-33.0),(23.8,-31.0),(23.9,-31.5),(24.0,-30.0)]
SYM_REF_T = [11.9, 19.0]   # grey dashed reference level in SYM-H panel
SYM_REF_V = 30.0

# ---------------- layout ----------------
W, H = 918, 1120
fig = plt.figure(figsize=(W / 100, H / 100), dpi=100)
X0, X1 = 70, 909
PANELS_PX = [(73, 232), (237, 396), (401, 559), (565, 724), (730, 888), (893, 1053)]
axes = []
for top, bot in PANELS_PX:
    ax = fig.add_axes([X0 / W, 1 - bot / H, (X1 - X0) / W, (bot - top) / H])
    axes.append(ax)

SPINE_C = '#666666'
TICK_C = '#808080'
LW_DATA = 1.25

def style(ax, ylim, major, minor, hour_grid=True):
    ax.set_xlim(0, 24)
    ax.set_ylim(*ylim)
    for s in ax.spines.values():
        s.set_color(SPINE_C)
        s.set_linewidth(2.0)
    ax.xaxis.set_major_locator(MultipleLocator(2))
    ax.xaxis.set_minor_locator(MultipleLocator(1))
    ax.tick_params(axis='x', which='both', direction='in', top=True, bottom=True,
                   length=4, width=1.3, color=TICK_C, labelbottom=False)
    ax.yaxis.set_major_locator(major)
    ax.yaxis.set_minor_locator(MultipleLocator(minor))
    ax.tick_params(axis='y', which='major', direction='in', left=True, right=True,
                   length=11, width=1.5, color=TICK_C, labelsize=11.5, pad=4)
    ax.tick_params(axis='y', which='minor', direction='in', left=True, right=True,
                   length=5, width=1.2, color=TICK_C)
    if hour_grid:
        for h in range(1, 24):
            ax.axvline(h, color='#555555', lw=0.9, ls=(0, (1.6, 3.2)), zorder=0)

def plot_pairs(ax, data, scale=1.0):
    arr = np.array(data, dtype=float)
    ax.plot(arr[:, 0], arr[:, 1] * scale, color='black', lw=LW_DATA, zorder=3)

# panel 1: multi-coloured series
ax = axes[0]
style(ax, (-0.016, 0.613), FixedLocator([0.0, 0.1, 0.2, 0.3, 0.4, 0.5, 0.6]), 0.01, hour_grid=False)
ax.set_yticklabels(['0.0', '0.1', '0.2', '0.3', '0.4', '0.5', '0.6'])
for vals, ci in TOP_SERIES:
    tt = np.linspace(0, 24, len(vals))
    ax.plot(tt, vals, color=TOP_COLORS[ci], lw=1.2, zorder=2)
ax.plot(burst_t, burst_v, color='#10b0ff', lw=1.6, zorder=2)
for t, pk, foot, ci in TOP_SPIKES:
    ax.plot([t - 0.03, t, t + 0.03], [foot, pk, foot], color=TOP_COLORS[ci], lw=1.2, zorder=2)
ax.plot(np.linspace(0, 24, len(top_red)), top_red, color=TOP_COLORS[9], lw=1.2, zorder=2.5)

# panel 2: V
ax = axes[1]
style(ax, (383, 570), FixedLocator([400, 450, 500, 550]), 10)
plot_pairs(ax, V_data)
# panel 3: N
ax = axes[2]
style(ax, (2.6, 59.2), FixedLocator([10, 20, 30, 40, 50]), 1)
plot_pairs(ax, N_data)
# panel 4: B
ax = axes[3]
style(ax, (2.4, 17.0), FixedLocator([4, 6, 8, 10, 12, 14, 16]), 0.25)
plot_pairs(ax, B_data)
# panel 5: T
ax = axes[4]
style(ax, (0.2e5, 3.85e5), FixedLocator([1e5, 2e5, 3e5]), 1e4)
ax.set_yticklabels([r'$1{\times}10^5$', r'$2{\times}10^5$', r'$3{\times}10^5$'])
plot_pairs(ax, T_data, scale=1e5)
# panel 6: SYM-H
ax = axes[5]
style(ax, (-60.5, 31.3), FixedLocator([-60, -40, -20, 0, 20]), 5)
ax.plot(SYM_REF_T, [SYM_REF_V, SYM_REF_V], color='#a0a0a0', lw=2.2, ls=(0, (4, 3)), zorder=2)
plot_pairs(ax, SYM_data)
ax.xaxis.set_major_locator(FixedLocator(list(range(0, 25, 2))))
ax.set_xticklabels(HOUR_LABELS)
ax.tick_params(axis='x', which='major', labelbottom=True, labelsize=11.5, pad=6)

# panel labels
LABELS = [(1, r'$V$', 0.70), (2, r'$N$', 0.55), (3, r'$B$', 0.60), (4, r'$T$', 0.56), (5, r'$SYM\!-\!H$', 0.29)]
for i, txt, yf in LABELS:
    axes[i].text(0.083, yf, txt, transform=axes[i].transAxes, fontsize=25,
                 ha='left', va='center', math_fontfamily='stix', zorder=5)

fig.text(489 / W, 1 - 55 / H, TITLE, ha='center', va='center', fontsize=16, family='DejaVu Serif')
fig.text(489 / W, 1 - 1095 / H, 'UT', ha='center', va='center', fontsize=11)

# red dashed highlight box spanning all panels
def hour_to_figx(t):
    disp = axes[-1].transData.transform((t, 0))
    return fig.transFigure.inverted().transform(disp)[0]
xl, xr = hour_to_figx(RECT_T[0]), hour_to_figx(RECT_T[1])
yt, yb = 1 - 9 / H, 1 - 1116 / H
fig.add_artist(Line2D([xl, xl, xr, xr, xl], [yb, yt, yt, yb, yb], transform=fig.transFigure,
                      color='#ff1a1a', lw=3.4, ls=(0, (4.2, 2.4)), clip_on=False, zorder=10))

fig.savefig('out.png', dpi=100)
